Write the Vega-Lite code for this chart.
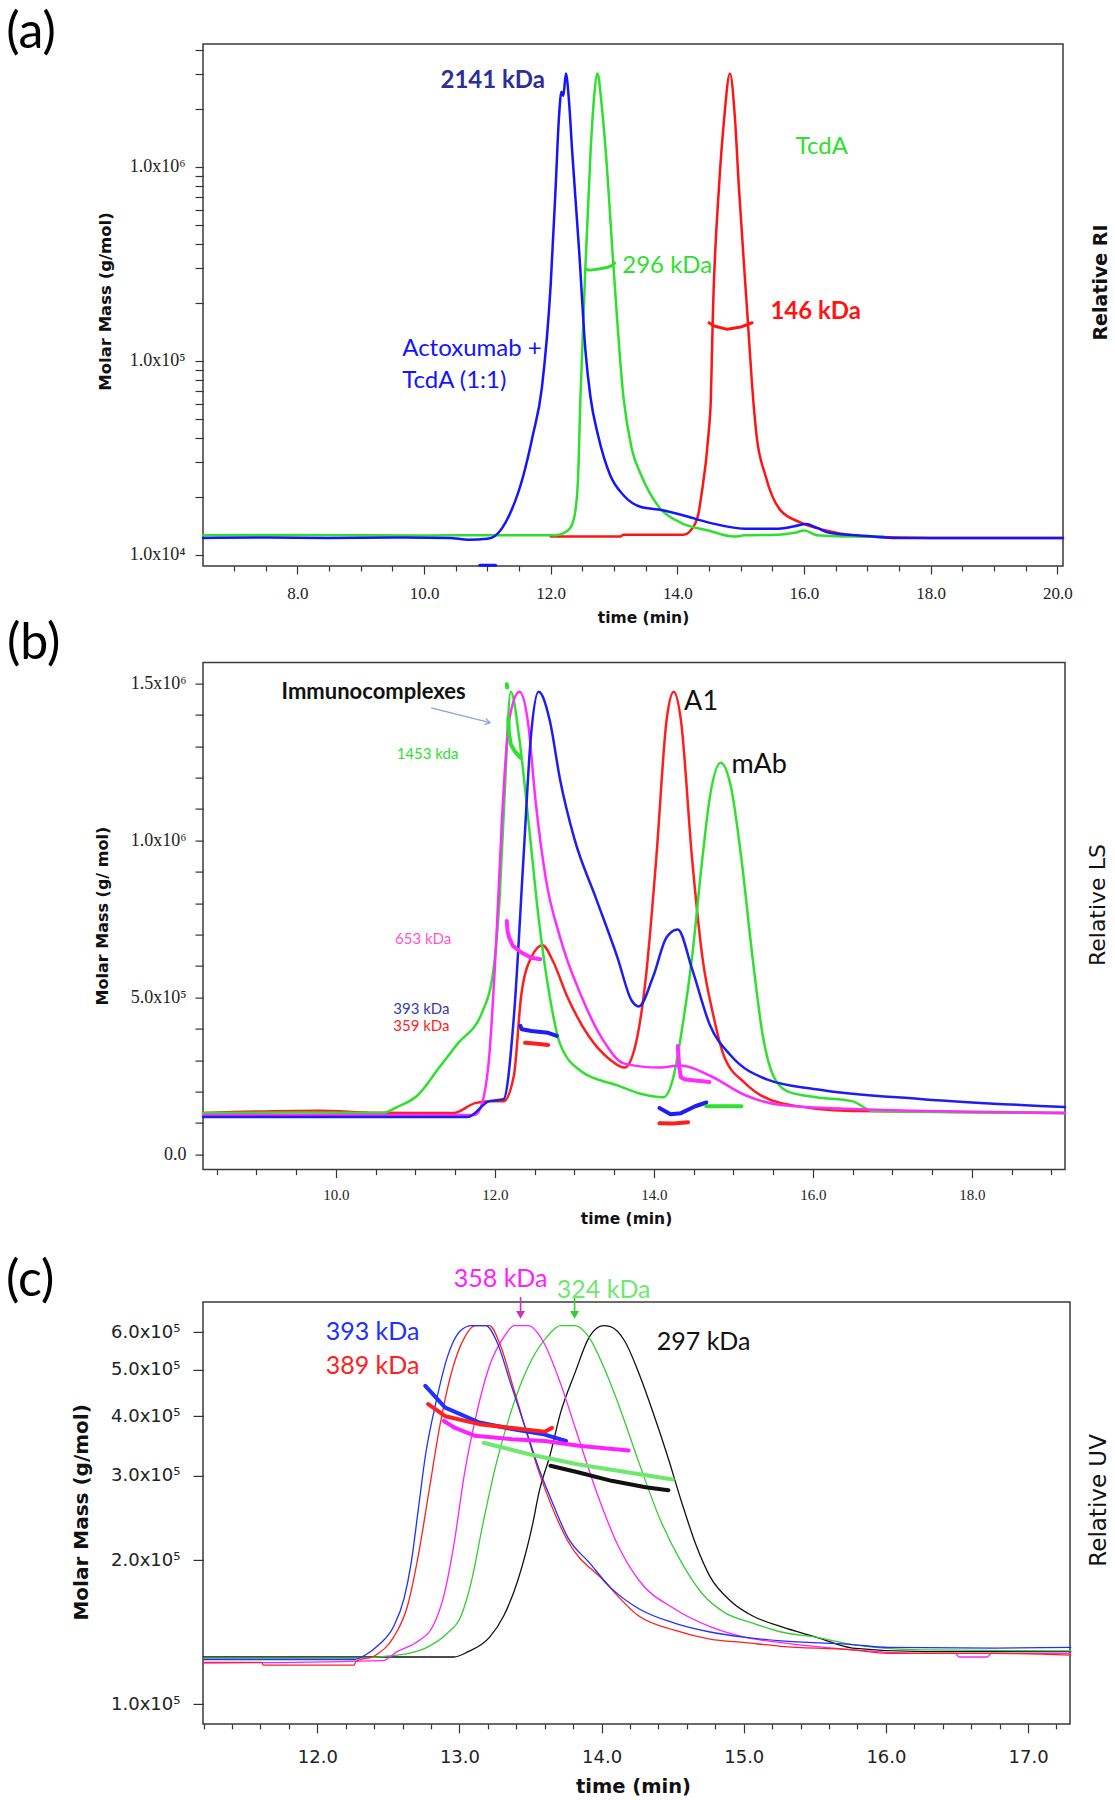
{
"$schema": "https://vega.github.io/schema/vega-lite/v6.json",
"padding": {"left": 5, "top": 6, "right": 5, "bottom": 5},
"background": "white",
"config": {
  "view": {"stroke": "#3a3a3a", "strokeWidth": 1.5},
  "axis": {"domain": false, "grid": false, "tickColor": "#333", "tickWidth": 1.2, "labelColor": "#222", "titleColor": "#111", "labelOverlap": false, "labelFlush": false},
  "line": {"strokeCap": "round", "strokeJoin": "round"}
},
"datasets": {
  "a_sig": [
    {"s":"aR","t":12.0,"v":0.1},{"s":"aR","t":13.1,"v":0.1},{"s":"aR","t":13.15,"v":0.5},{"s":"aR","t":14.1,"v":0.5},{"s":"aR","t":14.21,"v":1.4},{"s":"aR","t":14.33,"v":4.8},{"s":"aR","t":14.38,"v":9.0},{"s":"aR","t":14.49,"v":21.8},{"s":"aR","t":14.53,"v":30},{"s":"aR","t":14.56,"v":47.2},{"s":"aR","t":14.66,"v":75.8},{"s":"aR","t":14.74,"v":90.2},{"s":"aR","t":14.83,"v":99.85},{"s":"aR","t":14.91,"v":90.2},{"s":"aR","t":14.97,"v":75.8},{"s":"aR","t":15.11,"v":47.2},{"s":"aR","t":15.18,"v":32.8},{"s":"aR","t":15.25,"v":22},{"s":"aR","t":15.39,"v":13.3},{"s":"aR","t":15.62,"v":5.9},{"s":"aR","t":15.95,"v":3.1},{"s":"aR","t":16.35,"v":1.4},{"s":"aR","t":16.97,"v":0.1},{"s":"aR","t":18.0,"v":-0.2},{"s":"aR","t":20.09,"v":-0.2},
    {"s":"aG","t":6.51,"v":0.4},{"s":"aG","t":8.0,"v":0.45},{"s":"aG","t":10.0,"v":0.3},{"s":"aG","t":11.0,"v":0.4},{"s":"aG","t":12.0,"v":0.35},{"s":"aG","t":12.13,"v":0.5},{"s":"aG","t":12.3,"v":1.8},{"s":"aG","t":12.38,"v":4.8},{"s":"aG","t":12.43,"v":12},{"s":"aG","t":12.47,"v":30},{"s":"aG","t":12.55,"v":58.6},{"s":"aG","t":12.63,"v":83},{"s":"aG","t":12.68,"v":93.8},{"s":"aG","t":12.74,"v":99.85},{"s":"aG","t":12.8,"v":93.8},{"s":"aG","t":12.87,"v":83},{"s":"aG","t":12.99,"v":58.6},{"s":"aG","t":13.15,"v":30},{"s":"aG","t":13.28,"v":19},{"s":"aG","t":13.43,"v":13.3},{"s":"aG","t":13.71,"v":6.45},{"s":"aG","t":14.05,"v":3.1},{"s":"aG","t":14.49,"v":1.4},{"s":"aG","t":14.9,"v":0.1},{"s":"aG","t":15.06,"v":0.35},{"s":"aG","t":15.6,"v":0.5},{"s":"aG","t":15.85,"v":0.9},{"s":"aG","t":16.01,"v":1.4},{"s":"aG","t":16.2,"v":0.35},{"s":"aG","t":16.6,"v":0.1},{"s":"aG","t":17.25,"v":0.1},
    {"s":"aB","t":6.51,"v":-0.2},{"s":"aB","t":7.5,"v":-0.1},{"s":"aB","t":8.5,"v":-0.2},{"s":"aB","t":9.5,"v":-0.1},{"s":"aB","t":10.4,"v":-0.2},{"s":"aB","t":10.7,"v":-0.6},{"s":"aB","t":11.0,"v":-0.4},{"s":"aB","t":11.12,"v":0.2},{"s":"aB","t":11.35,"v":4.8},{"s":"aB","t":11.57,"v":13.3},{"s":"aB","t":11.72,"v":22},{"s":"aB","t":11.86,"v":32},{"s":"aB","t":12.0,"v":54.3},{"s":"aB","t":12.08,"v":75.8},{"s":"aB","t":12.13,"v":90.2},{"s":"aB","t":12.17,"v":95.9},{"s":"aB","t":12.2,"v":95},{"s":"aB","t":12.24,"v":99.85},{"s":"aB","t":12.29,"v":93.8},{"s":"aB","t":12.34,"v":83},{"s":"aB","t":12.45,"v":61.5},{"s":"aB","t":12.55,"v":40},{"s":"aB","t":12.63,"v":30},{"s":"aB","t":12.75,"v":21.8},{"s":"aB","t":12.94,"v":13.3},{"s":"aB","t":13.15,"v":9.0},{"s":"aB","t":13.44,"v":6.4},{"s":"aB","t":13.7,"v":5.9},{"s":"aB","t":14.06,"v":4.8},{"s":"aB","t":14.5,"v":3.1},{"s":"aB","t":15.07,"v":1.8},{"s":"aB","t":15.6,"v":1.8},{"s":"aB","t":15.85,"v":2.3},{"s":"aB","t":16.03,"v":2.8},{"s":"aB","t":16.2,"v":2.0},{"s":"aB","t":16.4,"v":0.9},{"s":"aB","t":17.0,"v":0.2},{"s":"aB","t":17.4,"v":-0.2},{"s":"aB","t":18.5,"v":-0.2},{"s":"aB","t":20.09,"v":-0.2}
  ],
  "a_mass": [
    {"s":"aG","g":"a1","t":12.55,"m":297000},{"s":"aG","g":"a1","t":12.62,"m":294000},{"s":"aG","g":"a1","t":12.76,"m":298000},{"s":"aG","g":"a1","t":12.9,"m":304000},{"s":"aG","g":"a1","t":12.98,"m":312000},{"s":"aG","g":"a1","t":13.01,"m":320000},
    {"s":"aR","g":"a2","t":14.5,"m":157500},{"s":"aR","g":"a2","t":14.58,"m":151500},{"s":"aR","g":"a2","t":14.79,"m":145600},{"s":"aR","g":"a2","t":15.0,"m":149600},{"s":"aR","g":"a2","t":15.18,"m":157500},
    {"s":"aB","g":"a3","t":10.88,"m":8850},{"s":"aB","g":"a3","t":11.13,"m":8850}
  ],
  "a_text": [
    {"s":"aB","t":9.656,"m":106100,"label":"Actoxumab +"},
    {"s":"aB","t":9.656,"m":72800,"label":"TcdA (1:1)"},
    {"s":"aG","t":13.13,"m":285000,"label":"296 kDa"},
    {"s":"aG","t":15.87,"m":1163000,"label":"TcdA"}
  ],
  "a_bold": [
    {"s":"aN","t":10.26,"m":2565000,"label":"2141 kDa"},
    {"s":"aR","t":15.47,"m":164000,"label":"146 kDa"}
  ],
  "a_letter": [{"s":"x","t":3.795,"m":4930000,"label":"(a)"}],
  "b_sig": [
    {"s":"bR","t":8.33,"v":0.47},{"s":"bR","t":9.2,"v":0.9},{"s":"bR","t":9.8,"v":1.0},{"s":"bR","t":10.5,"v":0.5},{"s":"bR","t":11.48,"v":0.47},{"s":"bR","t":11.75,"v":2.8},{"s":"bR","t":11.93,"v":3.26},{"s":"bR","t":12.11,"v":3.26},{"s":"bR","t":12.24,"v":9.32},{"s":"bR","t":12.33,"v":27.96},{"s":"bR","t":12.46,"v":37.28},{"s":"bR","t":12.6,"v":40.07},{"s":"bR","t":12.73,"v":36.35},{"s":"bR","t":12.91,"v":27.96},{"s":"bR","t":13.18,"v":18.64},{"s":"bR","t":13.45,"v":13.05},{"s":"bR","t":13.63,"v":11.18},{"s":"bR","t":13.76,"v":15.84},{"s":"bR","t":13.9,"v":32.62},{"s":"bR","t":14.03,"v":60.58},{"s":"bR","t":14.16,"v":93.2},{"s":"bR","t":14.25,"v":99.9},{"s":"bR","t":14.34,"v":93.2},{"s":"bR","t":14.48,"v":60.58},{"s":"bR","t":14.61,"v":37.28},{"s":"bR","t":14.75,"v":23.3},{"s":"bR","t":14.88,"v":13.98},{"s":"bR","t":15.15,"v":7.46},{"s":"bR","t":15.6,"v":2.8},{"s":"bR","t":16.49,"v":0.93},{"s":"bR","t":19.17,"v":0.47},
    {"s":"bG","t":8.33,"v":0.47},{"s":"bG","t":9.5,"v":0.6},{"s":"bG","t":10.59,"v":0.47},{"s":"bG","t":10.77,"v":1.86},{"s":"bG","t":11.03,"v":4.66},{"s":"bG","t":11.3,"v":11.18},{"s":"bG","t":11.53,"v":16.78},{"s":"bG","t":11.84,"v":24.23},{"s":"bG","t":11.97,"v":32.62},{"s":"bG","t":12.06,"v":51.26},{"s":"bG","t":12.12,"v":74.56},{"s":"bG","t":12.2,"v":99.9},{"s":"bG","t":12.31,"v":88.54},{"s":"bG","t":12.42,"v":69.9},{"s":"bG","t":12.55,"v":46.6},{"s":"bG","t":12.69,"v":27.96},{"s":"bG","t":12.82,"v":16.78},{"s":"bG","t":13.09,"v":10.25},{"s":"bG","t":13.54,"v":6.99},{"s":"bG","t":13.81,"v":5.13},{"s":"bG","t":14.12,"v":4.19},{"s":"bG","t":14.25,"v":9.32},{"s":"bG","t":14.34,"v":18.64},{"s":"bG","t":14.48,"v":37.28},{"s":"bG","t":14.61,"v":60.58},{"s":"bG","t":14.7,"v":74.56},{"s":"bG","t":14.84,"v":83.13},{"s":"bG","t":14.97,"v":77.35},{"s":"bG","t":15.1,"v":60.58},{"s":"bG","t":15.24,"v":37.28},{"s":"bG","t":15.37,"v":18.64},{"s":"bG","t":15.5,"v":9.32},{"s":"bG","t":15.68,"v":5.59},{"s":"bG","t":16.04,"v":4.19},{"s":"bG","t":16.49,"v":3.26},{"s":"bG","t":16.76,"v":0.93},{"s":"bG","t":19.17,"v":0.47},
    {"s":"bM","t":8.33,"v":0},{"s":"bM","t":11.75,"v":0},{"s":"bM","t":11.84,"v":2.8},{"s":"bM","t":11.93,"v":13.98},{"s":"bM","t":12.02,"v":41.94},{"s":"bM","t":12.09,"v":69.9},{"s":"bM","t":12.18,"v":93.2},{"s":"bM","t":12.31,"v":99.9},{"s":"bM","t":12.42,"v":92.26},{"s":"bM","t":12.51,"v":74.56},{"s":"bM","t":12.64,"v":55.92},{"s":"bM","t":12.82,"v":41.94},{"s":"bM","t":13.09,"v":27.96},{"s":"bM","t":13.36,"v":17.71},{"s":"bM","t":13.63,"v":12.12},{"s":"bM","t":14.07,"v":11.18},{"s":"bM","t":14.34,"v":11.65},{"s":"bM","t":14.7,"v":9.32},{"s":"bM","t":15.15,"v":4.66},{"s":"bM","t":15.6,"v":2.33},{"s":"bM","t":16.49,"v":1.4},{"s":"bM","t":19.17,"v":0.47},
    {"s":"bB","t":8.33,"v":-0.47},{"s":"bB","t":11.66,"v":-0.47},{"s":"bB","t":11.93,"v":3.26},{"s":"bB","t":12.11,"v":3.73},{"s":"bB","t":12.24,"v":23.3},{"s":"bB","t":12.36,"v":60.58},{"s":"bB","t":12.45,"v":88.54},{"s":"bB","t":12.55,"v":99.9},{"s":"bB","t":12.69,"v":93.2},{"s":"bB","t":12.82,"v":79.22},{"s":"bB","t":13.0,"v":65.24},{"s":"bB","t":13.27,"v":51.26},{"s":"bB","t":13.54,"v":37.28},{"s":"bB","t":13.72,"v":27.03},{"s":"bB","t":13.81,"v":25.63},{"s":"bB","t":13.99,"v":32.62},{"s":"bB","t":14.16,"v":41.94},{"s":"bB","t":14.3,"v":43.8},{"s":"bB","t":14.48,"v":34.48},{"s":"bB","t":14.7,"v":21.44},{"s":"bB","t":14.97,"v":13.98},{"s":"bB","t":15.42,"v":8.39},{"s":"bB","t":16.04,"v":6.06},{"s":"bB","t":17.38,"v":3.73},{"s":"bB","t":19.17,"v":1.86}
  ],
  "b_mass": [
    {"s":"bG","g":"b1","t":12.15,"m":1497000},{"s":"bG","g":"b1","t":12.155,"m":1487000},
    {"s":"bG","g":"b2","t":12.17,"m":1390000},{"s":"bG","g":"b2","t":12.175,"m":1348000},{"s":"bG","g":"b2","t":12.2,"m":1306000},{"s":"bG","g":"b2","t":12.25,"m":1284000},{"s":"bG","g":"b2","t":12.32,"m":1263000},
    {"s":"bM","g":"b3","t":12.15,"m":743000},{"s":"bM","g":"b3","t":12.16,"m":711000},{"s":"bM","g":"b3","t":12.18,"m":690000},{"s":"bM","g":"b3","t":12.23,"m":663000},{"s":"bM","g":"b3","t":12.34,"m":642000},{"s":"bM","g":"b3","t":12.46,"m":626000},{"s":"bM","g":"b3","t":12.57,"m":621000},
    {"s":"bB","g":"b4","t":12.32,"m":409000},{"s":"bB","g":"b4","t":12.34,"m":398000},{"s":"bB","g":"b4","t":12.46,"m":393000},{"s":"bB","g":"b4","t":12.67,"m":387000},{"s":"bB","g":"b4","t":12.78,"m":377000},
    {"s":"bR","g":"b5","t":12.38,"m":355000},{"s":"bR","g":"b5","t":12.53,"m":352000},{"s":"bR","g":"b5","t":12.67,"m":348000},
    {"s":"bB","g":"b6","t":14.07,"m":147500},{"s":"bB","g":"b6","t":14.21,"m":127400},{"s":"bB","g":"b6","t":14.34,"m":131000},{"s":"bB","g":"b6","t":14.52,"m":153000},{"s":"bB","g":"b6","t":14.66,"m":165000},
    {"s":"bG","g":"b7","t":14.66,"m":153000},{"s":"bG","g":"b7","t":15.1,"m":153000},
    {"s":"bR","g":"b8","t":14.07,"m":99000},{"s":"bR","g":"b8","t":14.25,"m":98000},{"s":"bR","g":"b8","t":14.43,"m":102000},
    {"s":"bM","g":"b9","t":14.3,"m":345000},{"s":"bM","g":"b9","t":14.31,"m":310000},{"s":"bM","g":"b9","t":14.32,"m":276000},{"s":"bM","g":"b9","t":14.34,"m":245000},{"s":"bM","g":"b9","t":14.4,"m":238000},{"s":"bM","g":"b9","t":14.52,"m":235000},{"s":"bM","g":"b9","t":14.7,"m":230000}
  ],
  "b_big": [
    {"s":"bK","t":14.38,"m":1415000,"label":"A1"},
    {"s":"bK","t":14.975,"m":1214000,"label":"mAb"}
  ],
  "b_bold": [{"s":"bK","t":9.318,"m":1450000,"label":"Immunocomplexes"}],
  "b_small": [
    {"s":"bG","t":10.765,"m":1259000,"label":"1453 kda"},
    {"s":"bP","t":10.745,"m":670000,"label":"653 kDa"},
    {"s":"bN","t":10.723,"m":447000,"label":"393 kDa"},
    {"s":"bR","t":10.723,"m":393000,"label":"359 kDa"}
  ],
  "b_arrow": [{"s":"bA","t":11.2,"m":1422000,"t2":11.94,"m2":1374500}],
  "b_head": [{"s":"bA","t":11.94,"m":1374500}],
  "b_letter": [{"s":"x","t":6.2,"m":1625000,"label":"(b)"}],
  "c_sig": [
    {"s":"cK","t":11.2,"v":1.17},{"s":"cK","t":12.26,"v":1.17},{"s":"cK","t":12.961,"v":1.17},{"s":"cK","t":13.061,"v":2.77},{"s":"cK","t":13.211,"v":7.04},{"s":"cK","t":13.311,"v":13.43},{"s":"cK","t":13.411,"v":24.09},{"s":"cK","t":13.511,"v":40.09},{"s":"cK","t":13.562,"v":50.75},{"s":"cK","t":13.637,"v":61.41},{"s":"cK","t":13.712,"v":74.2},{"s":"cK","t":13.812,"v":85.93},{"s":"cK","t":13.912,"v":96.59},{"s":"cK","t":14.012,"v":100.1},{"s":"cK","t":14.062,"v":99.79},{"s":"cK","t":14.162,"v":95.52},{"s":"cK","t":14.262,"v":85.93},{"s":"cK","t":14.362,"v":74.2},{"s":"cK","t":14.462,"v":61.41},{"s":"cK","t":14.562,"v":47.55},{"s":"cK","t":14.663,"v":34.75},{"s":"cK","t":14.763,"v":25.16},{"s":"cK","t":14.913,"v":17.7},{"s":"cK","t":15.063,"v":13.43},{"s":"cK","t":15.263,"v":10.23},{"s":"cK","t":15.514,"v":7.04},{"s":"cK","t":15.764,"v":3.84},{"s":"cK","t":16.264,"v":2.77},{"s":"cK","t":17.3,"v":2.77},
    {"s":"cG","t":11.2,"v":0.85},{"s":"cG","t":12.26,"v":0.85},{"s":"cG","t":12.561,"v":1.71},{"s":"cG","t":12.761,"v":3.84},{"s":"cG","t":12.911,"v":8.1},{"s":"cG","t":13.011,"v":13.43},{"s":"cG","t":13.086,"v":24.09},{"s":"cG","t":13.161,"v":40.09},{"s":"cG","t":13.261,"v":59.28},{"s":"cG","t":13.361,"v":74.2},{"s":"cG","t":13.486,"v":88.06},{"s":"cG","t":13.612,"v":96.59},{"s":"cG","t":13.712,"v":100.1},{"s":"cG","t":13.812,"v":100.1},{"s":"cG","t":13.912,"v":96.59},{"s":"cG","t":14.012,"v":88.06},{"s":"cG","t":14.112,"v":77.4},{"s":"cG","t":14.262,"v":59.28},{"s":"cG","t":14.412,"v":42.22},{"s":"cG","t":14.562,"v":29.42},{"s":"cG","t":14.713,"v":19.83},{"s":"cG","t":14.863,"v":14.5},{"s":"cG","t":15.063,"v":11.3},{"s":"cG","t":15.263,"v":8.64},{"s":"cG","t":15.514,"v":7.04},{"s":"cG","t":15.764,"v":4.9},{"s":"cG","t":16.264,"v":3.3},{"s":"cG","t":17.3,"v":2.99},
    {"s":"cM","t":11.2,"v":-0.64},{"s":"cM","t":12.46,"v":0.11},{"s":"cM","t":12.561,"v":2.77},{"s":"cM","t":12.711,"v":5.97},{"s":"cM","t":12.811,"v":10.23},{"s":"cM","t":12.886,"v":18.76},{"s":"cM","t":12.961,"v":34.75},{"s":"cM","t":13.036,"v":56.08},{"s":"cM","t":13.111,"v":72.07},{"s":"cM","t":13.211,"v":88.06},{"s":"cM","t":13.311,"v":96.59},{"s":"cM","t":13.386,"v":100.1},{"s":"cM","t":13.486,"v":100.1},{"s":"cM","t":13.587,"v":95.52},{"s":"cM","t":13.712,"v":82.73},{"s":"cM","t":13.812,"v":69.94},{"s":"cM","t":13.962,"v":50.75},{"s":"cM","t":14.112,"v":34.75},{"s":"cM","t":14.262,"v":24.09},{"s":"cM","t":14.512,"v":15.57},{"s":"cM","t":14.763,"v":10.23},{"s":"cM","t":15.013,"v":7.04},{"s":"cM","t":15.263,"v":5.44},{"s":"cM","t":15.764,"v":3.3},{"s":"cM","t":16.264,"v":2.24},{"s":"cM","t":16.489,"v":2.24},{"s":"cM","t":16.514,"v":1.17},{"s":"cM","t":16.715,"v":1.17},{"s":"cM","t":16.74,"v":2.24},{"s":"cM","t":17.3,"v":2.24},
    {"s":"cR","t":11.2,"v":-0.43},{"s":"cR","t":11.61,"v":-0.43},{"s":"cR","t":11.62,"v":-1.28},{"s":"cR","t":12.26,"v":-1.28},{"s":"cR","t":12.27,"v":-0.21},{"s":"cR","t":12.41,"v":1.71},{"s":"cR","t":12.536,"v":7.04},{"s":"cR","t":12.636,"v":16.63},{"s":"cR","t":12.711,"v":31.56},{"s":"cR","t":12.786,"v":50.75},{"s":"cR","t":12.861,"v":69.94},{"s":"cR","t":12.936,"v":84.86},{"s":"cR","t":13.036,"v":96.59},{"s":"cR","t":13.111,"v":100.1},{"s":"cR","t":13.211,"v":100.1},{"s":"cR","t":13.286,"v":94.46},{"s":"cR","t":13.386,"v":80.6},{"s":"cR","t":13.562,"v":56.08},{"s":"cR","t":13.762,"v":35.82},{"s":"cR","t":14.012,"v":24.09},{"s":"cR","t":14.262,"v":13.43},{"s":"cR","t":14.512,"v":9.17},{"s":"cR","t":14.763,"v":6.5},{"s":"cR","t":15.013,"v":5.44},{"s":"cR","t":15.263,"v":4.37},{"s":"cR","t":15.764,"v":3.3},{"s":"cR","t":16.014,"v":2.24},{"s":"cR","t":16.765,"v":2.24},{"s":"cR","t":17.3,"v":1.71},
    {"s":"cB","t":11.2,"v":0.43},{"s":"cB","t":12.26,"v":0.43},{"s":"cB","t":12.335,"v":1.71},{"s":"cB","t":12.435,"v":4.9},{"s":"cB","t":12.536,"v":10.23},{"s":"cB","t":12.611,"v":18.76},{"s":"cB","t":12.661,"v":29.42},{"s":"cB","t":12.711,"v":45.42},{"s":"cB","t":12.761,"v":61.41},{"s":"cB","t":12.836,"v":77.4},{"s":"cB","t":12.911,"v":90.19},{"s":"cB","t":13.011,"v":98.72},{"s":"cB","t":13.086,"v":100.1},{"s":"cB","t":13.186,"v":100.1},{"s":"cB","t":13.261,"v":95.52},{"s":"cB","t":13.361,"v":82.73},{"s":"cB","t":13.461,"v":69.94},{"s":"cB","t":13.561,"v":57.14},{"s":"cB","t":13.662,"v":46.48},{"s":"cB","t":13.762,"v":36.89},{"s":"cB","t":13.912,"v":29.42},{"s":"cB","t":14.062,"v":21.96},{"s":"cB","t":14.262,"v":15.57},{"s":"cB","t":14.512,"v":11.3},{"s":"cB","t":14.763,"v":8.64},{"s":"cB","t":15.013,"v":7.04},{"s":"cB","t":15.263,"v":5.97},{"s":"cB","t":15.764,"v":4.9},{"s":"cB","t":16.014,"v":4.05},{"s":"cB","t":16.765,"v":3.84},{"s":"cB","t":17.3,"v":4.05}
  ],
  "c_mass": [
    {"s":"cB","g":"c1","t":12.76,"m":463000},{"s":"cB","g":"c1","t":12.9,"m":417000},{"s":"cB","g":"c1","t":13.14,"m":388000},{"s":"cB","g":"c1","t":13.37,"m":376000},{"s":"cB","g":"c1","t":13.6,"m":366000},{"s":"cB","g":"c1","t":13.75,"m":355000},
    {"s":"cR","g":"c2","t":12.78,"m":424000},{"s":"cR","g":"c2","t":12.9,"m":400000},{"s":"cR","g":"c2","t":13.14,"m":385000},{"s":"cR","g":"c2","t":13.37,"m":378000},{"s":"cR","g":"c2","t":13.6,"m":371000},{"s":"cR","g":"c2","t":13.65,"m":378000},
    {"s":"cM","g":"c3","t":12.89,"m":391000},{"s":"cM","g":"c3","t":12.97,"m":378000},{"s":"cM","g":"c3","t":13.11,"m":364000},{"s":"cM","g":"c3","t":13.37,"m":358000},{"s":"cM","g":"c3","t":13.6,"m":355000},{"s":"cM","g":"c3","t":13.84,"m":347000},{"s":"cM","g":"c3","t":14.19,"m":339000},
    {"s":"cGl","g":"c4","t":13.17,"m":352000},{"s":"cGl","g":"c4","t":13.49,"m":333000},{"s":"cGl","g":"c4","t":13.84,"m":317000},{"s":"cGl","g":"c4","t":14.19,"m":305000},{"s":"cGl","g":"c4","t":14.5,"m":295000},
    {"s":"cK","g":"c5","t":13.64,"m":315000},{"s":"cK","g":"c5","t":13.84,"m":305000},{"s":"cK","g":"c5","t":14.07,"m":293000},{"s":"cK","g":"c5","t":14.31,"m":284000},{"s":"cK","g":"c5","t":14.47,"m":280000}
  ],
  "c_text": [
    {"s":"cB","t":12.059,"m":577000,"label":"393 kDa"},
    {"s":"cR","t":12.059,"m":490000,"label":"389 kDa"},
    {"s":"cM","t":12.96,"m":745000,"label":"358 kDa"},
    {"s":"cGl","t":13.685,"m":706000,"label":"324 kDa"},
    {"s":"cK","t":14.388,"m":550000,"label":"297 kDa"}
  ],
  "c_arrow": [
    {"s":"cMd","t":13.43,"m":710000,"m2":660000},
    {"s":"cG","t":13.81,"m":710000,"m2":660000}
  ],
  "c_head": [
    {"s":"cMd","t":13.43,"m":652000},
    {"s":"cG","t":13.81,"m":652000}
  ],
  "c_letter": [{"s":"x","t":9.98,"m":767000,"label":"(c)"}]
},
"spacing": 96.6,
"bounds": "flush",
"vconcat": [
{
  "width": 860, "height": 522,
  "encoding": {"x": {"field": "t", "type": "quantitative", "scale": {"domain": [6.51, 20.09], "nice": false, "zero": false},
    "axis": {"values": [7,7.5,8,8.5,9,9.5,10,10.5,11,11.5,12,12.5,13,13.5,14,14.5,15,15.5,16,16.5,17,17.5,18,18.5,19,19.5,20],
      "labelExpr": "datum.value % 2 == 0 ? format(datum.value, '.1f') : ''",
      "tickSize": {"condition": {"test": "datum.value % 2 == 0", "value": 8}, "value": 5},
      "labelFont": "Liberation Serif", "labelFontSize": 17, "labelPadding": 11,
      "title": "time (min)", "titleFont": "DejaVu Sans", "titleFontWeight": "bold", "titleFontSize": 15.5, "titleX": 440, "titleY": 51, "titleAlign": "center", "titleBaseline": "middle"}}},
  "layer": [
    {"data": {"name": "a_sig"}, "mark": {"type": "line", "strokeWidth": 2.5, "interpolate": "monotone"},
     "encoding": {"y": {"field": "v", "type": "quantitative", "scale": {"domain": [-6.25, 106.2], "nice": false, "zero": false},
        "axis": {"orient": "right", "labels": false, "ticks": false, "title": "Relative RI", "titleFont": "DejaVu Sans", "titleFontWeight": "bold", "titleFontSize": 19, "titleAngle": -90, "titleX": 37, "titleY": 238, "titleAlign": "center", "titleBaseline": "middle"}},
      "color": {"field":"s","type":"nominal","legend":null,"scale":{"domain":["aB","aG","aR","aN","bB","bG","bM","bR","bK","bA","bN","bP","cB","cR","cM","cG","cK","cGl","cMd","x"],"range":["#1414ff","#2ee02e","#ff1414","#2e2e96","#1e1ef0","#30e030","#ff2cff","#ff1e1e","#111111","#8aa6d6","#3a3ab0","#ff55cc","#2030ff","#ff2020","#ff20ff","#36cc36","#111111","#6fe86f","#cc33bb","#000000"]}}}},
    {"data": {"name": "a_mass"}, "mark": {"type": "line", "strokeWidth": 3},
     "encoding": {"y": {"field": "m", "type": "quantitative", "scale": {"type": "log", "domain": [8776, 4305000], "nice": false},
        "axis": {"orient": "left", "values": [10000,20000,30000,40000,50000,60000,70000,80000,90000,100000,200000,300000,400000,500000,600000,700000,800000,900000,1000000,2000000,3000000,4000000],
          "labelExpr": "datum.value == 10000 ? '1.0x10⁴' : datum.value == 100000 ? '1.0x10⁵' : datum.value == 1000000 ? '1.0x10⁶' : ''",
          "tickSize": 8, "labelFont": "Liberation Serif", "labelFontSize": 18, "labelPadding": 10,
          "title": "Molar Mass (g/mol)", "titleFont": "DejaVu Sans", "titleFontWeight": "bold", "titleFontSize": 16.5, "titleAngle": -90, "titleX": -98, "titleY": 257, "titleAlign": "center", "titleBaseline": "middle"}},
      "detail": {"field": "g"},
      "color": {"field":"s","type":"nominal","legend":null,"scale":{"domain":["aB","aG","aR","aN","bB","bG","bM","bR","bK","bA","bN","bP","cB","cR","cM","cG","cK","cGl","cMd","x"],"range":["#1414ff","#2ee02e","#ff1414","#2e2e96","#1e1ef0","#30e030","#ff2cff","#ff1e1e","#111111","#8aa6d6","#3a3ab0","#ff55cc","#2030ff","#ff2020","#ff20ff","#36cc36","#111111","#6fe86f","#cc33bb","#000000"]}}}},
    {"data": {"name": "a_text"}, "mark": {"type": "text", "font": "Lato", "fontSize": 24, "align": "left", "baseline": "alphabetic"},
     "encoding": {"y": {"field": "m", "type": "quantitative", "scale": {"type": "log", "domain": [8776, 4305000], "nice": false}, "axis": null},
      "text": {"field": "label"},
      "color": {"field":"s","type":"nominal","legend":null,"scale":{"domain":["aB","aG","aR","aN","bB","bG","bM","bR","bK","bA","bN","bP","cB","cR","cM","cG","cK","cGl","cMd","x"],"range":["#1414ff","#2ee02e","#ff1414","#2e2e96","#1e1ef0","#30e030","#ff2cff","#ff1e1e","#111111","#8aa6d6","#3a3ab0","#ff55cc","#2030ff","#ff2020","#ff20ff","#36cc36","#111111","#6fe86f","#cc33bb","#000000"]}}}},
    {"data": {"name": "a_bold"}, "mark": {"type": "text", "font": "Lato", "fontSize": 24, "fontWeight": "bold", "align": "left", "baseline": "alphabetic"},
     "encoding": {"y": {"field": "m", "type": "quantitative", "scale": {"type": "log", "domain": [8776, 4305000], "nice": false}, "axis": null},
      "text": {"field": "label"},
      "color": {"field":"s","type":"nominal","legend":null,"scale":{"domain":["aB","aG","aR","aN","bB","bG","bM","bR","bK","bA","bN","bP","cB","cR","cM","cG","cK","cGl","cMd","x"],"range":["#1414ff","#2ee02e","#ff1414","#2e2e96","#1e1ef0","#30e030","#ff2cff","#ff1e1e","#111111","#8aa6d6","#3a3ab0","#ff55cc","#2030ff","#ff2020","#ff20ff","#36cc36","#111111","#6fe86f","#cc33bb","#000000"]}}}},
    {"data": {"name": "a_letter"}, "mark": {"type": "text", "font": "Lato", "fontSize": 50, "align": "center", "baseline": "middle"},
     "encoding": {"y": {"field": "m", "type": "quantitative", "scale": {"type": "log", "domain": [8776, 4305000], "nice": false}, "axis": null},
      "text": {"field": "label"},
      "color": {"field":"s","type":"nominal","legend":null,"scale":{"domain":["aB","aG","aR","aN","bB","bG","bM","bR","bK","bA","bN","bP","cB","cR","cM","cG","cK","cGl","cMd","x"],"range":["#1414ff","#2ee02e","#ff1414","#2e2e96","#1e1ef0","#30e030","#ff2cff","#ff1e1e","#111111","#8aa6d6","#3a3ab0","#ff55cc","#2030ff","#ff2020","#ff20ff","#36cc36","#111111","#6fe86f","#cc33bb","#000000"]}}}}
  ],
  "resolve": {"scale": {"y": "independent"}, "axis": {"y": "independent"}}
},
{
  "spacing": 132.3,
  "bounds": "flush",
  "vconcat": [
  {
    "width": 862, "height": 507,
    "encoding": {"x": {"field": "t", "type": "quantitative", "scale": {"domain": [8.33, 19.17], "nice": false, "zero": false},
      "axis": {"values": [8.5,9,9.5,10,10.5,11,11.5,12,12.5,13,13.5,14,14.5,15,15.5,16,16.5,17,17.5,18,18.5,19],
        "labelExpr": "datum.value % 2 == 0 ? format(datum.value, '.1f') : ''",
        "tickSize": {"condition": {"test": "datum.value % 2 == 0", "value": 8}, "value": 5},
        "labelFont": "Liberation Serif", "labelFontSize": 15, "labelPadding": 10, "labelDx": -4,
        "title": "time (min)", "titleFont": "DejaVu Sans", "titleFontWeight": "bold", "titleFontSize": 15.5, "titleX": 423, "titleY": 48.5, "titleAlign": "center", "titleBaseline": "middle"}}},
    "layer": [
      {"data": {"name": "b_sig"}, "mark": {"type": "line", "strokeWidth": 2.5, "interpolate": "monotone"},
       "encoding": {"y": {"field": "v", "type": "quantitative", "scale": {"domain": [-12.9, 106.8], "nice": false, "zero": false},
          "axis": {"orient": "right", "labels": false, "ticks": false, "title": "Relative LS", "titleFont": "DejaVu Sans", "titleFontWeight": "normal", "titleFontSize": 22, "titleAngle": -90, "titleX": 32, "titleY": 242, "titleAlign": "center", "titleBaseline": "middle"}},
        "color": {"field":"s","type":"nominal","legend":null,"scale":{"domain":["aB","aG","aR","aN","bB","bG","bM","bR","bK","bA","bN","bP","cB","cR","cM","cG","cK","cGl","cMd","x"],"range":["#1414ff","#2ee02e","#ff1414","#2e2e96","#1e1ef0","#30e030","#ff2cff","#ff1e1e","#111111","#8aa6d6","#3a3ab0","#ff55cc","#2030ff","#ff2020","#ff20ff","#36cc36","#111111","#6fe86f","#cc33bb","#000000"]}}}},
      {"data": {"name": "b_mass"}, "mark": {"type": "line", "strokeWidth": 4},
       "encoding": {"y": {"field": "m", "type": "quantitative", "scale": {"domain": [-48700, 1566000], "nice": false, "zero": false},
          "axis": {"orient": "left", "values": [0,100000,200000,300000,400000,500000,600000,700000,800000,900000,1000000,1100000,1200000,1300000,1400000,1500000],
            "labelExpr": "datum.value == 0 ? '0.0' : datum.value == 500000 ? '5.0x10⁵' : datum.value == 1000000 ? '1.0x10⁶' : datum.value == 1500000 ? '1.5x10⁶' : ''",
            "tickSize": 8, "labelFont": "Liberation Serif", "labelFontSize": 18, "labelPadding": 9,
            "title": "Molar Mass (g/ mol)", "titleFont": "DejaVu Sans", "titleFontWeight": "bold", "titleFontSize": 16, "titleAngle": -90, "titleX": -101, "titleY": 253, "titleAlign": "center", "titleBaseline": "middle"}},
        "detail": {"field": "g"},
        "color": {"field":"s","type":"nominal","legend":null,"scale":{"domain":["aB","aG","aR","aN","bB","bG","bM","bR","bK","bA","bN","bP","cB","cR","cM","cG","cK","cGl","cMd","x"],"range":["#1414ff","#2ee02e","#ff1414","#2e2e96","#1e1ef0","#30e030","#ff2cff","#ff1e1e","#111111","#8aa6d6","#3a3ab0","#ff55cc","#2030ff","#ff2020","#ff20ff","#36cc36","#111111","#6fe86f","#cc33bb","#000000"]}}}},
      {"data": {"name": "b_arrow"}, "mark": {"type": "rule", "strokeWidth": 1.3},
       "encoding": {"x2": {"field": "t2"}, "y": {"field": "m", "type": "quantitative", "scale": {"domain": [-48700, 1566000], "nice": false, "zero": false}, "axis": null}, "y2": {"field": "m2"},
        "color": {"field":"s","type":"nominal","legend":null,"scale":{"domain":["aB","aG","aR","aN","bB","bG","bM","bR","bK","bA","bN","bP","cB","cR","cM","cG","cK","cGl","cMd","x"],"range":["#1414ff","#2ee02e","#ff1414","#2e2e96","#1e1ef0","#30e030","#ff2cff","#ff1e1e","#111111","#8aa6d6","#3a3ab0","#ff55cc","#2030ff","#ff2020","#ff20ff","#36cc36","#111111","#6fe86f","#cc33bb","#000000"]}}}},
      {"data": {"name": "b_head"}, "mark": {"type": "point", "shape": "M-1,-0.6L0,0L-1,0.6", "filled": false, "size": 110, "angle": 14, "strokeWidth": 1.3, "opacity": 1},
       "encoding": {"y": {"field": "m", "type": "quantitative", "scale": {"domain": [-48700, 1566000], "nice": false, "zero": false}, "axis": null},
        "color": {"field":"s","type":"nominal","legend":null,"scale":{"domain":["aB","aG","aR","aN","bB","bG","bM","bR","bK","bA","bN","bP","cB","cR","cM","cG","cK","cGl","cMd","x"],"range":["#1414ff","#2ee02e","#ff1414","#2e2e96","#1e1ef0","#30e030","#ff2cff","#ff1e1e","#111111","#8aa6d6","#3a3ab0","#ff55cc","#2030ff","#ff2020","#ff20ff","#36cc36","#111111","#6fe86f","#cc33bb","#000000"]}}}},
      {"data": {"name": "b_big"}, "mark": {"type": "text", "font": "Lato", "fontSize": 27, "align": "left", "baseline": "alphabetic"},
       "encoding": {"y": {"field": "m", "type": "quantitative", "scale": {"domain": [-48700, 1566000], "nice": false, "zero": false}, "axis": null},
        "text": {"field": "label"},
        "color": {"field":"s","type":"nominal","legend":null,"scale":{"domain":["aB","aG","aR","aN","bB","bG","bM","bR","bK","bA","bN","bP","cB","cR","cM","cG","cK","cGl","cMd","x"],"range":["#1414ff","#2ee02e","#ff1414","#2e2e96","#1e1ef0","#30e030","#ff2cff","#ff1e1e","#111111","#8aa6d6","#3a3ab0","#ff55cc","#2030ff","#ff2020","#ff20ff","#36cc36","#111111","#6fe86f","#cc33bb","#000000"]}}}},
      {"data": {"name": "b_bold"}, "mark": {"type": "text", "font": "Lato", "fontSize": 22, "fontWeight": "bold", "align": "left", "baseline": "alphabetic"},
       "encoding": {"y": {"field": "m", "type": "quantitative", "scale": {"domain": [-48700, 1566000], "nice": false, "zero": false}, "axis": null},
        "text": {"field": "label"},
        "color": {"field":"s","type":"nominal","legend":null,"scale":{"domain":["aB","aG","aR","aN","bB","bG","bM","bR","bK","bA","bN","bP","cB","cR","cM","cG","cK","cGl","cMd","x"],"range":["#1414ff","#2ee02e","#ff1414","#2e2e96","#1e1ef0","#30e030","#ff2cff","#ff1e1e","#111111","#8aa6d6","#3a3ab0","#ff55cc","#2030ff","#ff2020","#ff20ff","#36cc36","#111111","#6fe86f","#cc33bb","#000000"]}}}},
      {"data": {"name": "b_small"}, "mark": {"type": "text", "font": "Lato", "fontSize": 15, "align": "left", "baseline": "alphabetic"},
       "encoding": {"y": {"field": "m", "type": "quantitative", "scale": {"domain": [-48700, 1566000], "nice": false, "zero": false}, "axis": null},
        "text": {"field": "label"},
        "color": {"field":"s","type":"nominal","legend":null,"scale":{"domain":["aB","aG","aR","aN","bB","bG","bM","bR","bK","bA","bN","bP","cB","cR","cM","cG","cK","cGl","cMd","x"],"range":["#1414ff","#2ee02e","#ff1414","#2e2e96","#1e1ef0","#30e030","#ff2cff","#ff1e1e","#111111","#8aa6d6","#3a3ab0","#ff55cc","#2030ff","#ff2020","#ff20ff","#36cc36","#111111","#6fe86f","#cc33bb","#000000"]}}}},
      {"data": {"name": "b_letter"}, "mark": {"type": "text", "font": "Lato", "fontSize": 50, "align": "center", "baseline": "middle"},
       "encoding": {"y": {"field": "m", "type": "quantitative", "scale": {"domain": [-48700, 1566000], "nice": false, "zero": false}, "axis": null},
        "text": {"field": "label"},
        "color": {"field":"s","type":"nominal","legend":null,"scale":{"domain":["aB","aG","aR","aN","bB","bG","bM","bR","bK","bA","bN","bP","cB","cR","cM","cG","cK","cGl","cMd","x"],"range":["#1414ff","#2ee02e","#ff1414","#2e2e96","#1e1ef0","#30e030","#ff2cff","#ff1e1e","#111111","#8aa6d6","#3a3ab0","#ff55cc","#2030ff","#ff2020","#ff20ff","#36cc36","#111111","#6fe86f","#cc33bb","#000000"]}}}}
    ],
    "resolve": {"scale": {"y": "independent"}, "axis": {"y": "independent"}}
  },
  {
    "width": 867, "height": 422,
    "encoding": {"x": {"field": "t", "type": "quantitative", "scale": {"domain": [11.196, 17.295], "nice": false, "zero": false},
      "axis": {"values": [11.2,11.4,11.6,11.8,12,12.2,12.4,12.6,12.8,13,13.2,13.4,13.6,13.8,14,14.2,14.4,14.6,14.8,15,15.2,15.4,15.6,15.8,16,16.2,16.4,16.6,16.8,17,17.2],
        "labelExpr": "abs(datum.value - round(datum.value)) < 0.001 ? format(datum.value, '.1f') : ''",
        "tickSize": {"condition": {"test": "abs(datum.value - round(datum.value)) < 0.001", "value": 9}, "value": 5},
        "labelFont": "DejaVu Sans", "labelFontSize": 18, "labelPadding": 16,
        "title": "time (min)", "titleFont": "DejaVu Sans", "titleFontWeight": "bold", "titleFontSize": 19.5, "titleX": 430, "titleY": 63, "titleAlign": "center", "titleBaseline": "middle"}}},
    "layer": [
      {"data": {"name": "c_sig"}, "mark": {"type": "line", "strokeWidth": 1.3, "interpolate": "monotone"},
       "encoding": {"y": {"field": "v", "type": "quantitative", "scale": {"domain": [-18.8, 107.2], "nice": false, "zero": false},
          "axis": {"orient": "right", "labels": false, "ticks": false, "title": "Relative UV", "titleFont": "DejaVu Sans", "titleFontWeight": "normal", "titleFontSize": 23, "titleAngle": -90, "titleX": 28, "titleY": 198, "titleAlign": "center", "titleBaseline": "middle"}},
        "color": {"field":"s","type":"nominal","legend":null,"scale":{"domain":["aB","aG","aR","aN","bB","bG","bM","bR","bK","bA","bN","bP","cB","cR","cM","cG","cK","cGl","cMd","x"],"range":["#1414ff","#2ee02e","#ff1414","#2e2e96","#1e1ef0","#30e030","#ff2cff","#ff1e1e","#111111","#8aa6d6","#3a3ab0","#ff55cc","#2030ff","#ff2020","#ff20ff","#36cc36","#111111","#6fe86f","#cc33bb","#000000"]}}}},
      {"data": {"name": "c_mass"}, "mark": {"type": "line", "strokeWidth": 4},
       "encoding": {"y": {"field": "m", "type": "quantitative", "scale": {"type": "log", "domain": [90870, 693700], "nice": false},
          "axis": {"orient": "left", "values": [100000,200000,300000,400000,500000,600000],
            "labelExpr": "format(datum.value / 100000, '.1f') + 'x10⁵'",
            "tickSize": 10, "labelFont": "DejaVu Sans", "labelFontSize": 18, "labelPadding": 13,
            "title": "Molar Mass (g/mol)", "titleFont": "DejaVu Sans", "titleFontWeight": "bold", "titleFontSize": 20, "titleAngle": -90, "titleX": -122, "titleY": 210, "titleAlign": "center", "titleBaseline": "middle"}},
        "detail": {"field": "g"},
        "color": {"field":"s","type":"nominal","legend":null,"scale":{"domain":["aB","aG","aR","aN","bB","bG","bM","bR","bK","bA","bN","bP","cB","cR","cM","cG","cK","cGl","cMd","x"],"range":["#1414ff","#2ee02e","#ff1414","#2e2e96","#1e1ef0","#30e030","#ff2cff","#ff1e1e","#111111","#8aa6d6","#3a3ab0","#ff55cc","#2030ff","#ff2020","#ff20ff","#36cc36","#111111","#6fe86f","#cc33bb","#000000"]}}}},
      {"data": {"name": "c_arrow"}, "mark": {"type": "rule", "strokeWidth": 1.6},
       "encoding": {"y": {"field": "m", "type": "quantitative", "scale": {"type": "log", "domain": [90870, 693700], "nice": false}, "axis": null}, "y2": {"field": "m2"},
        "color": {"field":"s","type":"nominal","legend":null,"scale":{"domain":["aB","aG","aR","aN","bB","bG","bM","bR","bK","bA","bN","bP","cB","cR","cM","cG","cK","cGl","cMd","x"],"range":["#1414ff","#2ee02e","#ff1414","#2e2e96","#1e1ef0","#30e030","#ff2cff","#ff1e1e","#111111","#8aa6d6","#3a3ab0","#ff55cc","#2030ff","#ff2020","#ff20ff","#36cc36","#111111","#6fe86f","#cc33bb","#000000"]}}}},
      {"data": {"name": "c_head"}, "mark": {"type": "point", "shape": "triangle-down", "filled": true, "size": 80, "opacity": 1},
       "encoding": {"y": {"field": "m", "type": "quantitative", "scale": {"type": "log", "domain": [90870, 693700], "nice": false}, "axis": null},
        "color": {"field":"s","type":"nominal","legend":null,"scale":{"domain":["aB","aG","aR","aN","bB","bG","bM","bR","bK","bA","bN","bP","cB","cR","cM","cG","cK","cGl","cMd","x"],"range":["#1414ff","#2ee02e","#ff1414","#2e2e96","#1e1ef0","#30e030","#ff2cff","#ff1e1e","#111111","#8aa6d6","#3a3ab0","#ff55cc","#2030ff","#ff2020","#ff20ff","#36cc36","#111111","#6fe86f","#cc33bb","#000000"]}}}},
      {"data": {"name": "c_text"}, "mark": {"type": "text", "font": "Lato", "fontSize": 25, "align": "left", "baseline": "alphabetic"},
       "encoding": {"y": {"field": "m", "type": "quantitative", "scale": {"type": "log", "domain": [90870, 693700], "nice": false}, "axis": null},
        "text": {"field": "label"},
        "color": {"field":"s","type":"nominal","legend":null,"scale":{"domain":["aB","aG","aR","aN","bB","bG","bM","bR","bK","bA","bN","bP","cB","cR","cM","cG","cK","cGl","cMd","x"],"range":["#1414ff","#2ee02e","#ff1414","#2e2e96","#1e1ef0","#30e030","#ff2cff","#ff1e1e","#111111","#8aa6d6","#3a3ab0","#ff55cc","#2030ff","#ff2020","#ff20ff","#36cc36","#111111","#6fe86f","#cc33bb","#000000"]}}}},
      {"data": {"name": "c_letter"}, "mark": {"type": "text", "font": "Lato", "fontSize": 50, "align": "center", "baseline": "middle"},
       "encoding": {"y": {"field": "m", "type": "quantitative", "scale": {"type": "log", "domain": [90870, 693700], "nice": false}, "axis": null},
        "text": {"field": "label"},
        "color": {"field":"s","type":"nominal","legend":null,"scale":{"domain":["aB","aG","aR","aN","bB","bG","bM","bR","bK","bA","bN","bP","cB","cR","cM","cG","cK","cGl","cMd","x"],"range":["#1414ff","#2ee02e","#ff1414","#2e2e96","#1e1ef0","#30e030","#ff2cff","#ff1e1e","#111111","#8aa6d6","#3a3ab0","#ff55cc","#2030ff","#ff2020","#ff20ff","#36cc36","#111111","#6fe86f","#cc33bb","#000000"]}}}}
    ],
    "resolve": {"scale": {"y": "independent"}, "axis": {"y": "independent"}}
  }
  ]
}
]
}
